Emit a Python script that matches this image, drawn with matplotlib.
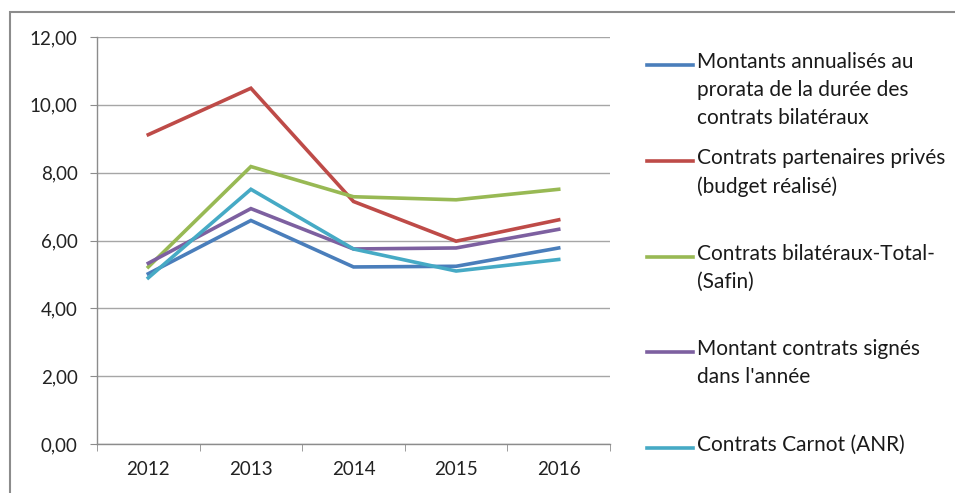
import matplotlib
matplotlib.use("Agg")
import matplotlib.pyplot as plt
from matplotlib.lines import Line2D
from matplotlib.patches import Rectangle
from matplotlib.ticker import FuncFormatter, FixedLocator

plt.rcParams['font.family'] = ['Lato', 'DejaVu Sans']

years = ['2012', '2013', '2014', '2015', '2016']

montants_annualises = [5.02, 6.59, 5.22, 5.24, 5.78]
partenaires_prives = [9.12, 10.49, 7.15, 5.98, 6.61]
bilateraux_total = [5.22, 8.18, 7.29, 7.20, 7.51]
contrats_signes = [5.33, 6.94, 5.75, 5.78, 6.33]
carnot_anr = [4.90, 7.51, 5.75, 5.10, 5.44]

labels = [
    "Montants annualisés au\nprorata de la durée des\ncontrats bilatéraux",
    "Contrats partenaires privés\n(budget réalisé)",
    "Contrats bilatéraux-Total-\n(Safin)",
    "Montant contrats signés\ndans l'année",
    "Contrats Carnot (ANR)",
]
series = [montants_annualises, partenaires_prives, bilateraux_total,
          contrats_signes, carnot_anr]
colors = ['#4A7EBB', '#BE4B48', '#98B954', '#7D60A0', '#46AAC5']

W, H = 955, 493
fig = plt.figure(figsize=(W / 100, H / 100), dpi=100)
ax = fig.add_axes([97 / W, 1 - 444 / H, (610 - 97) / W, (444 - 37) / H])

x = list(range(len(years)))
for vals, c in zip(series, colors):
    ax.plot(x, vals, color=c, lw=2.6, solid_joinstyle='miter')

ax.set_xlim(-0.5, len(years) - 0.5)
ax.set_ylim(0, 12)
ax.set_yticks(range(0, 13, 2))
ax.yaxis.set_major_formatter(FuncFormatter(lambda v, p: f"{v:.2f}".replace('.', ',')))
ax.set_xticks(x)
ax.set_xticklabels(years)
ax.xaxis.set_minor_locator(FixedLocator([i - 0.5 for i in range(len(years) + 1)]))

gray = '#8c8c8c'
ax.grid(axis='y', color='#a6a6a6', lw=1)
ax.set_axisbelow(True)
for s in ['top', 'right']:
    ax.spines[s].set_visible(False)
for s in ['left', 'bottom']:
    ax.spines[s].set_color(gray)
    ax.spines[s].set_linewidth(1)
ax.tick_params(axis='y', length=5, color=gray, pad=9, labelsize=13.5, labelcolor='#222222')
ax.tick_params(axis='x', which='major', length=0, pad=12, labelsize=13.5, labelcolor='#222222')
ax.tick_params(axis='x', which='minor', length=5, color=gray)

# legend drawn by hand so the handle sits on the first text line
leg_y = [65, 161, 257, 352, 448]
for lab, c, yp in zip(labels, colors, leg_y):
    fy = 1 - yp / H
    fig.add_artist(Line2D([647 / W, 693 / W], [fy, fy], color=c, lw=2.6,
                          transform=fig.transFigure))
    fig.text(697 / W, 1 - (yp - 13) / H, lab, fontsize=15, va='top', ha='left',
             linespacing=1.5, color='#1a1a1a')

# outer frame
fig.add_artist(Rectangle((10 / W, -0.1), 1.2, 1.1 - 12 / H, fill=False,
                         ec=gray, lw=1.5, transform=fig.transFigure))

fig.savefig('out.png', dpi=100)
